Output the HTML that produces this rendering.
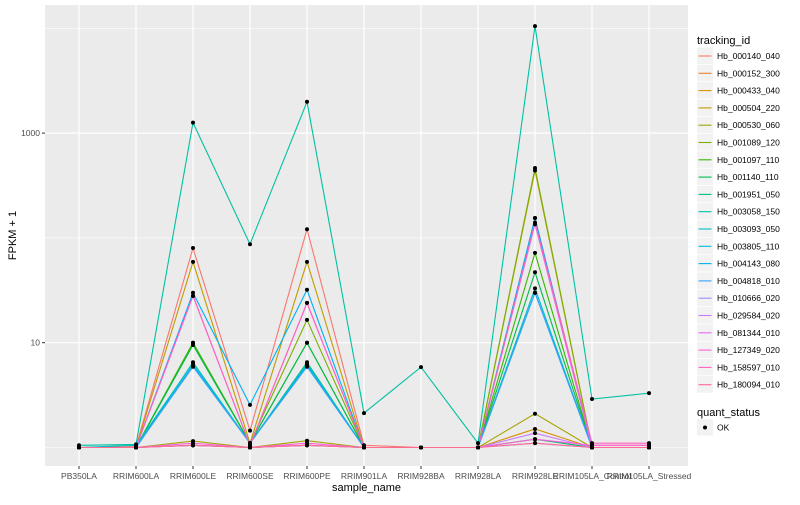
<!DOCTYPE html>
<html><head><meta charset="utf-8">
<style>
body{margin:0;background:#fff;font-family:"Liberation Sans",sans-serif;}
svg text{font-family:"Liberation Sans",sans-serif;}
</style></head>
<body>
<svg id="chart" width="800" height="500" viewBox="0 0 800 500" xmlns="http://www.w3.org/2000/svg">
<rect x="0" y="0" width="800" height="500" fill="#fff"/>
<rect x="45" y="5" width="643" height="461" fill="#EBEBEB"/>
<g id="grid"></g>
<g id="lines"></g>
<g id="points"></g>
<g id="axes"></g>
<g id="legend"></g>
</svg>
<script>
const categories = ["PB350LA","RRIM600LA","RRIM600LE","RRIM600SE","RRIM600PE","RRIM901LA","RRIM928BA","RRIM928LA","RRIM928LE","RRIM105LA_Control","RRIM105LA_Stressed"];
const seriesNames = ["Hb_000140_040","Hb_000152_300","Hb_000433_040","Hb_000504_220","Hb_000530_060","Hb_001089_120","Hb_001097_110","Hb_001140_110","Hb_001951_050","Hb_003058_150","Hb_003093_050","Hb_003805_110","Hb_004143_080","Hb_004818_010","Hb_010666_020","Hb_029584_020","Hb_081344_010","Hb_127349_020","Hb_158597_010","Hb_180094_010"];
const seriesColors = ["#F8766D","#EA8331","#D89000","#C09B00","#A3A500","#7CAE00","#39B600","#00BB4E","#00BF7D","#00C1A3","#00BFC4","#00BAE0","#00B0F6","#35A2FF","#9590FF","#C77CFF","#E76BF3","#FA62DB","#FF62BC","#FF6C91"];
const v0  = [1,1.02,80,1.45,121,1.05,1,1,155,1.05,1.05];
const v1  = [1,1,1.05,1,1.05,1,1,1,1.2,1,1];
const v2  = [1,1,1.05,1,1.05,1,1,1,1.5,1,1];
const v3  = [1,1,59,1.1,59,1,1,1,440,1,1];
const v4  = [1,1,1.15,1,1.16,1,1,1,2.1,1,1];
const v5  = [1,1,10,1.1,16.5,1,1,1,465,1,1];
const v6  = [1,1,10,1.1,10,1,1,1,72,1,1];
const v7  = [1,1,9.5,1.1,10,1,1,1,47,1,1];
const v8  = [1,1,6.5,1.1,6.5,1,1,1,1.2,1,1];
const v9  = [1.05,1.07,1260,87,1990,2.13,5.85,1.1,10500,2.9,3.3];
const v10 = [1,1.05,6.4,1.1,6.3,1,1,1,33,1,1];
const v11 = [1,1,6.1,1.1,6.1,1,1,1,30,1,1];
const v12 = [1,1,30,2.55,32,1,1,1,155,1,1];
const v13 = [1,1,5.9,1.1,5.9,1,1,1,30,1,1];
const v14 = [1,1,1.05,1,1.05,1,1,1,1.1,1,1];
const v15 = [1,1,1.05,1,1.05,1,1,1,1.37,1,1];
const v16 = [1,1,28,1.05,24,1,1,1,135,1,1];
const v17 = [1,1,1.1,1,1.1,1,1,1,1.2,1.05,1.05];
const v18 = [1,1,28,1.05,24,1,1,1,140,1.1,1.1];
const v19 = [1,1,1.05,1,1.05,1,1,1,1.1,1,1];
const seriesValues = [v0,v1,v2,v3,v4,v5,v6,v7,v8,v9,v10,v11,v12,v13,v14,v15,v16,v17,v18,v19];
const yMajorTicks = [10,1000];
const yMajorLabels = ["10","1000"];
const yMinorTicks = [1,100,10000];

const NS="http://www.w3.org/2000/svg";
const PL=45,PR=688,PT=5,PB=466;
function xScale(i){return 79+i*57;}
function yScale(v){return 447.5-Math.log10(v)*104.8;}
function mk(tag,attrs,parent){const e=document.createElementNS(NS,tag);for(const k in attrs)e.setAttribute(k,attrs[k]);parent.appendChild(e);return e;}
const grid=document.getElementById('grid'),lines=document.getElementById('lines'),pts=document.getElementById('points'),axes=document.getElementById('axes'),leg=document.getElementById('legend');

yMinorTicks.forEach(t=>{const y=yScale(t);const l=mk('line',{x1:PL,x2:PR,y1:y,y2:y,stroke:'#fff','stroke-width':0.6},grid);

});
yMajorTicks.forEach((t,i)=>{const y=yScale(t);const l=mk('line',{x1:PL,x2:PR,y1:y,y2:y,stroke:'#fff','stroke-width':1.2},grid);


const tk=mk('line',{x1:PL-3,x2:PL,y1:y,y2:y,stroke:'#333','stroke-width':1},axes);


const tx=mk('text',{x:PL-5,y:y+3,'text-anchor':'end','font-size':8.5,fill:'#4d4d4d'},axes);tx.textContent=yMajorLabels[i];

});
categories.forEach((c,i)=>{const x=xScale(i);const l=mk('line',{x1:x,x2:x,y1:PT,y2:PB,stroke:'#fff','stroke-width':1.2},grid);


const tk=mk('line',{x1:x,x2:x,y1:PB,y2:PB+3,stroke:'#333','stroke-width':1},axes);


const tx=mk('text',{x:x,y:PB+13,'text-anchor':'middle','font-size':8.5,fill:'#4d4d4d'},axes);tx.textContent=c;

});
const xt=mk('text',{x:(PL+PR)/2,y:491,'text-anchor':'middle','font-size':11,fill:'#000'},axes);xt.textContent='sample_name';


const yt=mk('text',{x:16,y:(PT+PB)/2,'text-anchor':'middle','font-size':11,fill:'#000',transform:'rotate(-90 16 '+((PT+PB)/2)+')'},axes);yt.textContent='FPKM + 1';



seriesValues.forEach((vals,s)=>{const d=vals.map((v,i)=>(i?'L':'M')+xScale(i).toFixed(1)+','+yScale(v).toFixed(1)).join(' ');
const p=mk('path',{d:d,fill:'none',stroke:seriesColors[s],'stroke-width':1.1},lines);

});
seriesValues.forEach((vals,s)=>{vals.forEach((v,i)=>{const c=mk('circle',{cx:xScale(i),cy:yScale(v),r:2,fill:'#000'},pts);

});});

const lt=mk('text',{x:697,y:44,'font-size':11,fill:'#000'},leg);lt.textContent='tracking_id';


seriesNames.forEach((n,s)=>{const y=56+s*17.3;
const g=mk('g',{},leg);


mk('rect',{x:697,y:y-8.5,width:16,height:16.5,fill:'#F2F2F2'},g);
mk('line',{x1:698.5,x2:711.5,y1:y,y2:y,stroke:seriesColors[s],'stroke-width':1.1},g);
const t=mk('text',{x:717,y:y+3,'font-size':8.5,fill:'#000'},g);t.textContent=n;});
const qt=mk('text',{x:697,y:416,'font-size':11,fill:'#000'},leg);qt.textContent='quant_status';


const qg=mk('g',{},leg);


mk('rect',{x:697,y:419,width:16,height:16.5,fill:'#F2F2F2'},qg);
mk('circle',{cx:705,cy:427.5,r:2,fill:'#000'},qg);
const qtx=mk('text',{x:717,y:430.5,'font-size':8.5,fill:'#000'},qg);qtx.textContent='OK';
</script>
</body></html>
